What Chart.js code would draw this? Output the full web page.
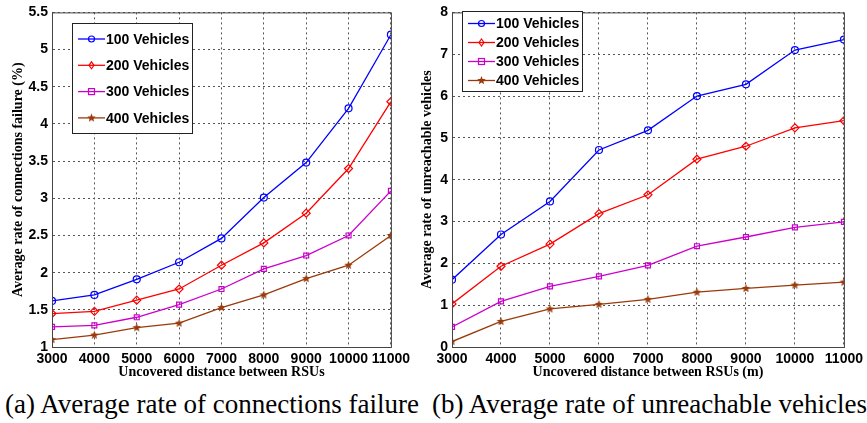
<!DOCTYPE html>
<html lang="en">
<head>
  <title>RSU coverage results</title>
  <script src="https://cdn.jsdelivr.net/npm/chart.js@4/dist/chart.umd.min.js"></script>
  <style>
    body { margin: 0; background: #fff; }
    #wrap { position: relative; width: 867px; height: 423px; }
    canvas { position: absolute; top: 0; }
    .cap { position: absolute; top: 388px; font-family: "Liberation Serif", serif; font-size: 27px; line-height: 32px; color: #000; white-space: nowrap; }
  </style>
</head>
<body>
<div id="wrap">
  <canvas id="chartA" style="left:0px" width="414" height="381"></canvas>
  <canvas id="chartB" style="left:414px" width="453" height="381"></canvas>
  <div class="cap" style="left:5px">(a) Average rate of connections failure</div>
  <div class="cap" style="left:432px">(b) Average rate of unreachable vehicles</div>
</div>
<script>
// data
var distances = [3000, 4000, 5000, 6000, 7000, 8000, 9000, 10000, 11000];
var seriesNames = ['100 Vehicles', '200 Vehicles', '300 Vehicles', '400 Vehicles'];

var failure100 = [1.62, 1.70, 1.91, 2.14, 2.46, 3.01, 3.48, 4.21, 5.20];
var failure200 = [1.45, 1.48, 1.63, 1.78, 2.10, 2.40, 2.80, 3.40, 4.30];
var failure300 = [1.27, 1.29, 1.40, 1.57, 1.78, 2.05, 2.23, 2.50, 3.10];
var failure400 = [1.10, 1.16, 1.26, 1.32, 1.53, 1.70, 1.92, 2.10, 2.50];

var unreach100 = [1.61, 2.69, 3.48, 4.71, 5.18, 6.00, 6.28, 7.10, 7.35];
var unreach200 = [1.03, 1.93, 2.46, 3.19, 3.64, 4.49, 4.80, 5.24, 5.41];
var unreach300 = [0.48, 1.09, 1.45, 1.69, 1.95, 2.41, 2.63, 2.86, 2.99];
var unreach400 = [0.13, 0.61, 0.91, 1.02, 1.14, 1.31, 1.40, 1.48, 1.55];

var colors = ['#0000ff', '#ff0000', '#cc00cc', '#9a3a0a'];

// filled pentagram used as marker for the 400 vehicles series
function makeStar(color) {
  var c = document.createElement('canvas');
  c.width = 11; c.height = 11;
  var g = c.getContext('2d');
  g.fillStyle = color;
  g.beginPath();
  for (var i = 0; i < 10; i++) {
    var r = (i % 2 == 0) ? 4.5 : 2;
    var a = -Math.PI / 2 + i * Math.PI / 5;
    var px = 5.5 + r * Math.cos(a), py = 5.5 + r * Math.sin(a);
    if (i == 0) g.moveTo(px, py); else g.lineTo(px, py);
  }
  g.closePath();
  g.fill();
  return c;
}
var starImg = makeStar(colors[3]);
var markers = ['circle', 'rectRot', 'rect', starImg];

function toPoints(vals) {
  return distances.map(function (d, i) { return {x: d, y: vals[i]}; });
}

function makeSets(list) {
  return list.map(function (vals, k) {
    return {
      label: seriesNames[k],
      data: toPoints(vals),
      borderColor: colors[k],
      backgroundColor: 'transparent',
      pointBorderColor: colors[k],
      pointBackgroundColor: 'transparent',
      pointStyle: markers[k],
      pointRadius: k == 1 ? 4 : 3.5,
      pointBorderWidth: 1.2,
      borderWidth: 1.3,
      tension: 0
    };
  });
}

// box frame and matlab-like legend inside plot
var framePlugin = {
  id: 'frame',
  afterDraw: function (chart) {
    var ctx = chart.ctx, a = chart.chartArea;
    ctx.save();
    ctx.strokeStyle = '#444';
    ctx.lineWidth = 1;
    ctx.strokeRect(a.left + 0.5, a.top + 0.5, a.right - a.left, a.bottom - a.top);

    var lg = chart.options.plugins.frame;
    ctx.fillStyle = '#fff';
    ctx.fillRect(lg.x, lg.y, lg.w, lg.h);
    ctx.strokeStyle = '#222';
    ctx.strokeRect(lg.x + 0.5, lg.y + 0.5, lg.w, lg.h);
    ctx.font = 'bold 14px "Liberation Sans", Arial, sans-serif';
    ctx.textBaseline = 'middle';
    for (var k = 0; k < seriesNames.length; k++) {
      var y = lg.y + lg.first + k * lg.step;
      var x0 = lg.x + 6, x1 = lg.x + 33, xm = (x0 + x1) / 2;
      ctx.strokeStyle = colors[k];
      ctx.lineWidth = 1.3;
      ctx.beginPath(); ctx.moveTo(x0, y); ctx.lineTo(x1, y); ctx.stroke();
      ctx.lineWidth = 1.2;
      ctx.beginPath();
      if (k == 0) { ctx.arc(xm, y, 3, 0, Math.PI * 2); ctx.stroke(); }
      else if (k == 1) { ctx.moveTo(xm, y - 3.5); ctx.lineTo(xm + 2.5, y); ctx.lineTo(xm, y + 3.5); ctx.lineTo(xm - 2.5, y); ctx.closePath(); ctx.stroke(); }
      else if (k == 2) { ctx.strokeRect(xm - 3, y - 3, 6, 6); }
      else { ctx.drawImage(starImg, xm - 5.5, y - 5.5); }
      ctx.fillStyle = '#000';
      ctx.fillText(seriesNames[k], x1 + 1, y + 1);
    }
    ctx.restore();
  }
};

function axisOpts(min, max, step, title, titlePad) {
  return {
    type: 'linear',
    min: min, max: max,
    ticks: {
      stepSize: step,
      color: '#000',
      padding: 4,
      maxRotation: 0,
      minRotation: 0,
      autoSkip: false,
      font: {family: '"Liberation Sans", Arial, sans-serif', size: 14, weight: 'bold'},
      callback: function (v) { return String(v); }
    },
    grid: {color: '#555', lineWidth: 1, drawTicks: false},
    border: {display: true, color: '#444', dash: [2, 3]},
    title: {
      display: true, text: title, color: '#000', padding: titlePad,
      font: {family: '"Liberation Serif", "Times New Roman", serif', size: 14, weight: 'bold'}
    }
  };
}

var chartA = new Chart(document.getElementById('chartA'), {
  type: 'line',
  data: {datasets: makeSets([failure100, failure200, failure300, failure400])},
  options: {
    responsive: false, animation: false,
    layout: {padding: {top: 10, right: 21, left: 0, bottom: 0}},
    plugins: {
      legend: {display: false}, tooltip: {enabled: false},
      frame: {x: 72, y: 23, w: 120, h: 110, first: 16, step: 26.3}
    },
    scales: {
      x: Object.assign(axisOpts(3000, 11000, 1000, 'Uncovered distance between RSUs', {top: 0, bottom: 0}),
        {afterFit: function (s) { s.height = 34; }}),
      y: Object.assign(axisOpts(1, 5.5, 0.5, 'Average rate of connections failure (%)', {top: 10, bottom: 0}),
        {afterFit: function (s) { s.width = 52; }})
    }
  },
  plugins: [framePlugin]
});

var chartB = new Chart(document.getElementById('chartB'), {
  type: 'line',
  data: {datasets: makeSets([unreach100, unreach200, unreach300, unreach400])},
  options: {
    responsive: false, animation: false,
    layout: {padding: {top: 7, right: 19, left: 0, bottom: 0}},
    plugins: {
      legend: {display: false}, tooltip: {enabled: false},
      frame: {x: 48, y: 11, w: 120, h: 80, first: 12.5, step: 19}
    },
    scales: {
      x: Object.assign(axisOpts(3000, 11000, 1000, 'Uncovered distance between RSUs (m)', {top: 0, bottom: 0}),
        {afterFit: function (s) { s.height = 34; }}),
      y: Object.assign(axisOpts(0, 8, 1, 'Average rate of unreachable vehicles', {top: 5, bottom: 0}),
        {afterFit: function (s) { s.width = 38; }})
    }
  },
  plugins: [framePlugin]
});
</script>
</body>
</html>
